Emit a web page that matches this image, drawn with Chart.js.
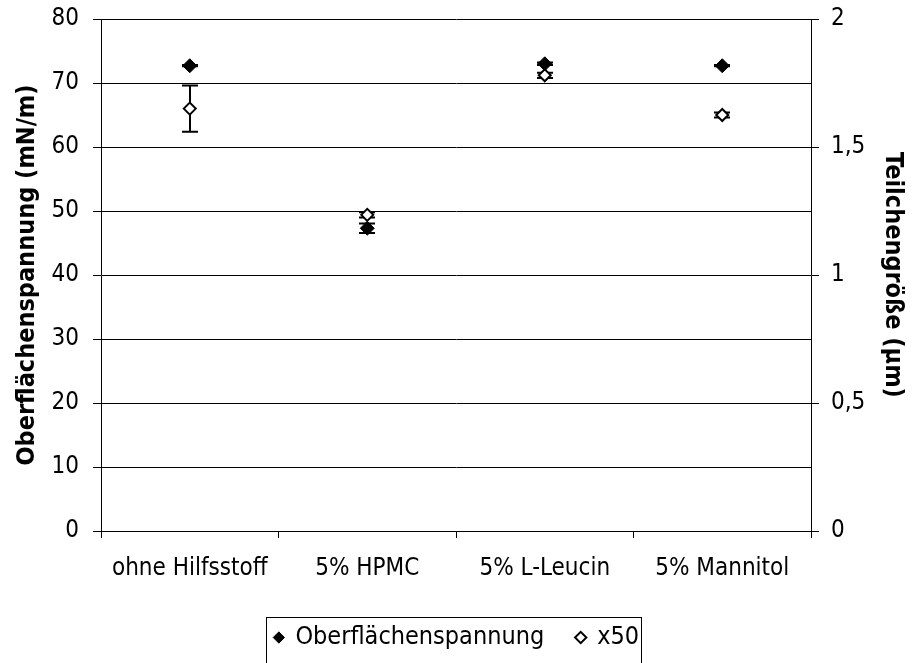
<!DOCTYPE html>
<html>
<head>
<meta charset="utf-8">
<script src="https://cdn.jsdelivr.net/npm/chart.js@4.4.0/dist/chart.umd.min.js"></script>
<style>
  body { margin: 0; background: #fff; }
  #wrap { width: 914px; height: 663px; }
</style>
</head>
<body>
<div id="wrap"><canvas id="chart_punkte" width="914" height="663"></canvas></div>
<script>
var kategorien = ['ohne Hilfsstoff', '5% HPMC', '5% L-Leucin', '5% Mannitol'];
var oberflaeche = [72.7, 47.3, 73.0, 72.7];
var oberflaecheFehler = [0.1, 0.75, 0.2, 0.1];
var x50 = [1.65, 1.235, 1.78, 1.625];
var x50Fehler = [0.09, 0.01, 0.01, 0.01];
var linksTicks = [0, 10, 20, 30, 40, 50, 60, 70, 80];
var rechtsTicks = [0, 0.5, 1, 1.5, 2];

var schrift = "'DejaVu Sans Condensed', 'DejaVu Sans', sans-serif";
Chart.defaults.font.family = schrift;
Chart.defaults.font.size = 24;
Chart.defaults.color = '#000';

// Fehlerbalken ueber die Skalen zeichnen
var fehlerbalken = {
    id: 'fehlerbalken',
    beforeDatasetsDraw: function(chart) {
        var ctx = chart.ctx;
        var xs = chart.scales.x;
        var paare = [[oberflaeche, oberflaecheFehler, chart.scales.y], [x50, x50Fehler, chart.scales.y2]];
        ctx.save();
        ctx.strokeStyle = '#000';
        ctx.lineWidth = 2;
        paare.forEach(function(p) {
            p[0].forEach(function(v, i) {
                var px = Math.round(xs.getPixelForValue(i));
                var oben = p[2].getPixelForValue(v + p[1][i]);
                var unten = p[2].getPixelForValue(v - p[1][i]);
                ctx.beginPath();
                ctx.moveTo(px, oben); ctx.lineTo(px, unten);
                ctx.moveTo(px - 8, oben); ctx.lineTo(px + 8, oben);
                ctx.moveTo(px - 8, unten); ctx.lineTo(px + 8, unten);
                ctx.stroke();
            });
        });
        ctx.restore();
    },
    afterDraw: function(chart) {
        // Rahmen um die Legende
        var boxes = chart.legend.legendHitBoxes;
        if (!boxes || !boxes.length) return;
        var l = Math.min.apply(null, boxes.map(function(b) { return b.left; }));
        var r = Math.max.apply(null, boxes.map(function(b) { return b.left + b.width; }));
        var ctx = chart.ctx;
        ctx.save();
        ctx.strokeStyle = '#000';
        ctx.lineWidth = 1;
        ctx.strokeRect(Math.round(l - 9) + 0.5, 617.5, Math.round(r - l + 11), 60);
        ctx.restore();
    }
};

// Achsen ohne zusaetzlichen Rand fuer die Beschriftung
function ohneRand(s) {
    s.paddingTop = 0;
    s.paddingBottom = 0;
}

var canvas = document.getElementById('chart_punkte').getContext('2d');
window.punkte = new Chart(canvas, {
    type: 'line',
    data: {
        labels: kategorien,
        datasets: [{
            label: 'Oberflächenspannung',
            data: oberflaeche,
            yAxisID: 'y',
            showLine: false,
            pointStyle: 'rectRot',
            pointRadius: 7,
            pointBackgroundColor: '#000',
            pointBorderColor: '#000',
            pointBorderWidth: 1,
            backgroundColor: '#000',
            borderColor: '#000'
        }, {
            label: 'x50',
            data: x50,
            yAxisID: 'y2',
            showLine: false,
            pointStyle: 'rectRot',
            pointRadius: 6,
            pointBackgroundColor: '#fff',
            pointBorderColor: '#000',
            pointBorderWidth: 2,
            backgroundColor: '#fff',
            borderColor: '#000'
        }]
    },
    options: {
        responsive: false,
        animation: false,
        layout: { padding: { top: 19, bottom: 3, left: 0, right: 0 } },
        plugins: {
            tooltip: { enabled: false },
            legend: {
                position: 'bottom',
                labels: {
                    usePointStyle: true,
                    boxWidth: 8,
                    boxHeight: 8,
                    padding: 10,
                    color: '#000',
                    font: { size: 25 },
                    generateLabels: function(chart) {
                        var items = Chart.defaults.plugins.legend.labels.generateLabels(chart);
                        items[0].text = items[0].text + '\u2002\u2002';
                        return items;
                    }
                }
            }
        },
        scales: {
            x: {
                offset: true,
                grid: { offset: true, drawOnChartArea: false, drawTicks: true, tickLength: 7, color: '#000' },
                border: { color: '#000', width: 1 },
                ticks: { padding: 16, maxRotation: 0, font: { size: 24 } },
                afterFit: function(s) { s.height = 84; }
            },
            y: {
                position: 'left',
                min: 0, max: 80,
                afterBuildTicks: function(s) { s.ticks = linksTicks.map(function(v) { return { value: v }; }); },
                grid: { color: '#000', tickLength: 8, lineWidth: 1 },
                border: { color: '#000', width: 1 },
                ticks: { padding: 14, font: { size: 24 } },
                title: { display: true, text: 'Oberflächenspannung (mN/m)', font: { size: 25, weight: 'bold' }, padding: { top: 12, bottom: 0 } },
                afterFit: function(s) { s.width = 101; ohneRand(s); }
            },
            y2: {
                position: 'right',
                min: 0, max: 2,
                afterBuildTicks: function(s) { s.ticks = rechtsTicks.map(function(v) { return { value: v }; }); },
                grid: { drawOnChartArea: false, color: '#000', tickLength: 8 },
                border: { color: '#000', width: 1 },
                ticks: {
                    padding: 12,
                    font: { size: 24 },
                    callback: function(v) { return String(v).replace('.', ','); }
                },
                title: { display: true, text: 'Teilchengröße (µm)', font: { size: 25, weight: 'bold' }, padding: { top: 7, bottom: 0 } },
                afterFit: function(s) { s.width = 103; ohneRand(s); }
            }
        }
    },
    plugins: [fehlerbalken]
});
</script>
</body>
</html>
